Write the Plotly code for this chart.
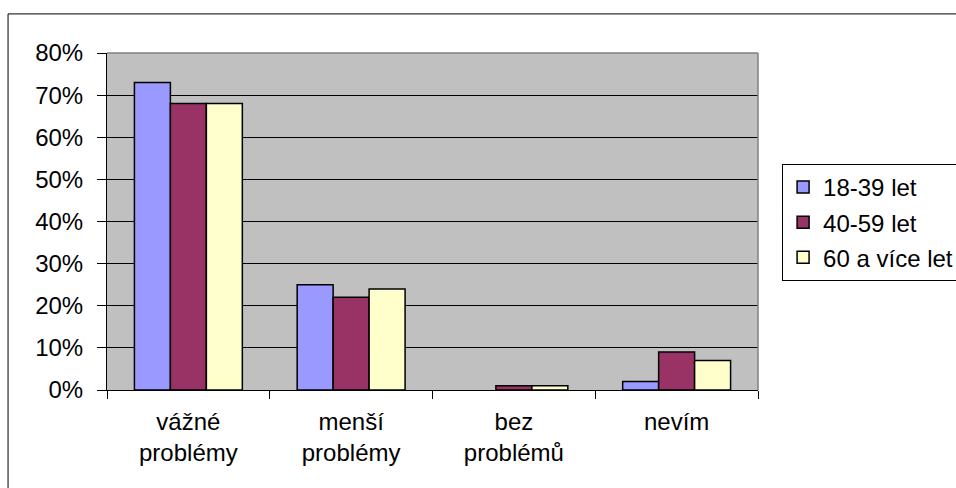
import plotly.graph_objects as go

categories = ["vážné<br>problémy", "menší<br>problémy", "bez<br>problémů", "nevím"]
series_names = ["18-39 let", "40-59 let", "60 a více let"]
values_18_39 = [0.73, 0.25, 0.00, 0.02]
values_40_59 = [0.68, 0.22, 0.01, 0.09]
values_60_plus = [0.68, 0.24, 0.01, 0.07]
colors = ["#9999FF", "#993366", "#FFFFCC"]
y_ticks = [0, 0.1, 0.2, 0.3, 0.4, 0.5, 0.6, 0.7, 0.8]

fig = go.Figure()
for i, (name, vals, col) in enumerate(zip(series_names, [values_18_39, values_40_59, values_60_plus], colors)):
    # empty bars get no outline
    widths = [1.5 if v > 0 else 0 for v in vals]
    fig.add_trace(go.Bar(
        x=categories, y=vals, name=name, legendgroup=f"g{i}",
        marker=dict(color=col, line=dict(color="black", width=widths)),
    ))

font = dict(family="Liberation Sans, Arial, sans-serif", size=24, color="black")

fig.update_layout(
    width=956, height=488,
    margin=dict(l=107, r=198, t=53, b=98, autoexpand=False),
    paper_bgcolor="white",
    plot_bgcolor="#C0C0C0",
    barmode="group",
    bargap=0.337,
    bargroupgap=0,
    font=font,
    showlegend=True,
    legend=dict(
        x=1.037, y=0.671, xanchor="left", yanchor="top",
        bordercolor="black", borderwidth=1, bgcolor="white",
        font=font, tracegroupgap=1, itemwidth=30,
    ),
    xaxis=dict(
        showline=True, linecolor="black", linewidth=1,
        ticks="outside", ticklen=8, tickcolor="black",
        tickson="boundaries", showgrid=False,
        ticklabelstandoff=10,
        tickfont=font,
    ),
    yaxis=dict(
        range=[0, 0.8], tickvals=y_ticks, tickformat=".0%",
        showline=True, linecolor="black", linewidth=1,
        ticks="outside", ticklen=9, tickcolor="black",
        ticklabelstandoff=9,
        showgrid=True, gridcolor="black", gridwidth=1,
        zeroline=False, tickfont=font,
    ),
    shapes=[
        # right and top edge of the plot area
        dict(type="line", xref="paper", yref="paper", x0=1, x1=1, y0=0, y1=1,
             line=dict(color="#808080", width=1.5)),
        dict(type="line", xref="paper", yref="paper", x0=0, x1=1, y0=1, y1=1,
             line=dict(color="#808080", width=1.5)),
        # outer chart border
        dict(type="rect", xref="paper", yref="paper",
             x0=-0.152, x1=1.45, y0=-0.30, y1=1.116,
             line=dict(color="black", width=1), layer="below"),
    ],
)

fig.write_html("out.html")
